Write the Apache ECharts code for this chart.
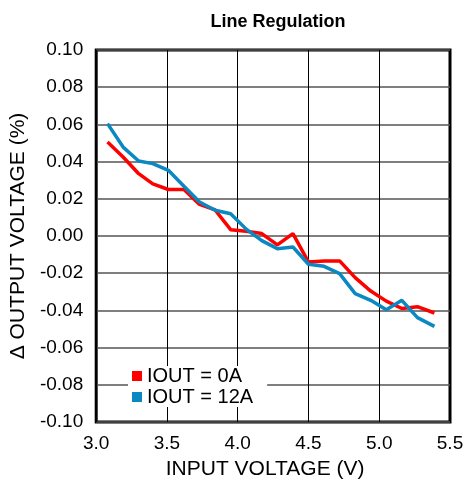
<!DOCTYPE html>
<html><head><meta charset="utf-8">
<script src="https://cdn.jsdelivr.net/npm/echarts@6/dist/echarts.min.js"></script>
<style>html,body{margin:0;padding:0;background:#fff}#c{width:467px;height:485px}</style>
</head><body><div id="c"></div>
<script>
const vin = [3.08,3.19,3.30,3.40,3.51,3.62,3.73,3.84,3.95,4.06,4.17,4.28,4.39,4.50,4.61,4.72,4.83,4.94,5.05,5.16,5.27,5.39];
const iout0A = [0.0505,0.0425,0.0335,0.028,0.025,0.025,0.017,0.014,0.0034,0.0025,0.0013,-0.0048,0.0013,-0.014,-0.0134,-0.0134,-0.0224,-0.0296,-0.035,-0.039,-0.038,-0.0414];
const iout12A = [0.0604,0.0478,0.0403,0.0389,0.0353,0.0267,0.0183,0.0138,0.012,0.0037,-0.0025,-0.0068,-0.0059,-0.0152,-0.0163,-0.0202,-0.031,-0.0346,-0.0396,-0.0346,-0.0439,-0.0486];
const seriesNames = ['IOUT = 0A','IOUT = 12A'];
const F = 'Liberation Sans, Arial, sans-serif';
const chart = echarts.init(document.getElementById('c'));
chart.setOption({
  animation:false,
  title:{text:'Line Regulation',left:273,top:8,textAlign:'center',textStyle:{fontFamily:F,fontSize:18,fontWeight:'bold',color:'#000'}},
  grid:{left:95,right:17,top:50,bottom:63,show:true,borderColor:'#000',borderWidth:3,backgroundColor:'transparent'},
  legend:{orient:'vertical',left:128,top:366,itemWidth:10,itemHeight:10,itemGap:1,icon:'rect',backgroundColor:'#fff',padding:[0,14,0,4],
    textStyle:{fontFamily:F,fontSize:20,lineHeight:20,color:'#000',padding:[0,0,0,0]},data:seriesNames},
  xAxis:{type:'value',min:3.0,max:5.5,interval:0.5,
    name:'INPUT VOLTAGE (V)',nameLocation:'middle',nameGap:37,nameTextStyle:{fontFamily:F,fontSize:21,color:'#000',padding:[0,16,0,0]},
    axisLine:{show:false},axisTick:{show:false},
    axisLabel:{fontFamily:F,fontSize:19,color:'#000',margin:12,formatter:v=>v.toFixed(1)},
    splitLine:{show:true,lineStyle:{color:'#000',width:1}}},
  yAxis:{type:'value',min:-0.10,max:0.10,interval:0.02,
    name:'Δ OUTPUT VOLTAGE (%)',nameLocation:'middle',nameGap:63,nameTextStyle:{fontFamily:F,fontSize:21,color:'#000'},
    axisLine:{show:false},axisTick:{show:false},
    axisLabel:{fontFamily:F,fontSize:19,color:'#000',margin:13,formatter:v=>v.toFixed(2)},
    splitLine:{show:true,lineStyle:{color:'#555',width:1.5}}},
  series:[
    {name:seriesNames[0],type:'line',data:vin.map((x,i)=>[x,iout0A[i]]),showSymbol:false,symbol:'rect',color:'#ff0000',lineStyle:{width:3.5,color:'#ff0000'},z:3},
    {name:seriesNames[1],type:'line',data:vin.map((x,i)=>[x,iout12A[i]]),showSymbol:false,symbol:'rect',color:'#0a88c2',lineStyle:{width:3.5,color:'#0a88c2'},z:4}
  ]
});
</script></body></html>
